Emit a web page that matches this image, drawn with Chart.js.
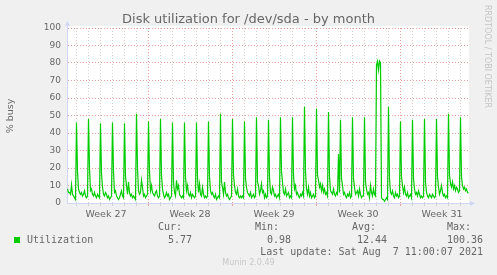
<!DOCTYPE html>
<html>
<head>
<meta charset="utf-8">
<title>Disk utilization for /dev/sda - by month</title>
<script src="https://cdn.jsdelivr.net/npm/chart.js@4.4.0/dist/chart.umd.min.js"></script>
<style>
body { margin: 0; background: #f0f0f0; }
canvas { display: block; }
</style>
</head>
<body>
<canvas id="diskGraph" width="497" height="275"></canvas>
<script>
// one sample every 2 hours, x counted in days from monday of week 27
var firstSample = 3.5 / 12;
var sampleStep = 1 / 12;

var utilization = [
	8, 6, 6, 5, 10.5, 5, 4, 3, 2,
	46, 18, 8, 6, 5, 6, 4, 5, 7, 4, 3, 4,
	48, 20, 7, 8, 5, 4, 6, 4, 3, 5, 4, 3,
	45.5, 17, 9, 5, 4, 6, 5, 3, 4, 2, 3, 4,
	46, 18, 6, 7, 4, 3, 2, 3, 5, 7, 4, 3,
	45.5, 15, 10, 5, 12, 6, 4, 5, 3, 4, 3, 2,
	51, 20, 7, 5, 6, 13, 9, 4, 5, 3, 4, 5,
	46.5, 18, 7, 10, 6, 5, 4, 6, 7, 4, 3, 4,
	48, 16, 8, 5, 3, 4, 6, 4, 5, 2, 3, 4,
	46, 12, 6, 4, 13, 8, 10, 5, 4, 3, 4, 3,
	46, 15, 7, 10, 5, 4, 6, 3, 5, 4, 3, 4,
	46, 14, 6, 11, 5, 4, 9, 5, 3, 4, 3, 4,
	46.5, 15, 7, 5, 6, 4, 3, 5, 2, 3, 4, 3,
	51, 12, 9, 5, 12, 6, 4, 5, 3, 2, 3, 4,
	48, 16, 10, 6, 5, 8, 4, 3, 4, 3, 4, 3,
	46.5, 14, 9, 6, 5, 4, 6, 3, 4, 5, 3, 4,
	49, 12, 10, 5, 7, 11, 6, 7, 3, 5, 3, 4,
	47.5, 15, 6, 5, 9, 7, 4, 5, 3, 4, 5, 3,
	49, 18, 12, 6, 5, 8, 4, 5, 6, 3, 4, 3,
	49, 16, 8, 10, 5, 6, 4, 3, 5, 4, 6, 4,
	55, 18, 8, 5, 9, 4, 6, 3, 4, 5, 3, 4,
	54, 16, 13, 9, 11, 7, 10, 6, 8, 5, 6, 4,
	52, 15, 7, 6, 5, 8, 5, 4, 6, 5, 28, 6,
	47.5, 14, 10, 5, 6, 4, 3, 5, 4, 6, 3, 4,
	49, 14, 9, 5, 6, 7, 4, 8, 5, 3, 4, 4,
	49, 12, 8, 5, 6, 3, 10, 6, 4, 8, 5, 4,
	79, 81, 76, 81, 80, 3, 2, 2, 1, 2, 3, 2,
	55, 14, 6, 5, 7, 4, 3, 6, 4, 5, 3, 4,
	46.5, 15, 10, 6, 9, 5, 4, 6, 3, 4, 5, 3,
	47.5, 14, 8, 5, 6, 4, 7, 5, 3, 4, 3, 4,
	48, 12, 6, 4, 3, 5, 4, 3, 5, 4, 3, 4,
	48, 15, 9, 5, 7, 10, 6, 4, 5, 3, 4, 3,
	51, 16, 11, 9, 12, 8, 10, 7, 9, 8, 6, 7,
	49, 15, 10, 8, 9, 7, 8, 6, 5.77
];

var weekLabels = ['Week 27', 'Week 28', 'Week 29', 'Week 30', 'Week 31'];
var weekStarts = [0, 7, 14, 21, 28];
var dayCount = 34;

var statLabels = ['Cur:', 'Min:', 'Avg:', 'Max:'];
var statValues = ['5.77', '0.98', '12.44', '100.36'];
var seriesName = 'Utilization';
var lastUpdate = 'Last update: Sat Aug  7 11:00:07 2021';

var points = utilization.map(function(v, i){
	return {x: firstSample + i * sampleStep, y: v};
});

var minorGrid = '#d0d0d0';
var majorGrid = '#eaa0a0';
var axisColor = '#cfd6f8';
var fontColor = '#666666';

var muninPlugin = {
	id: 'munin',
	beforeDraw: function(chart){
		var c = chart.ctx, a = chart.chartArea;
		c.save();
		c.fillStyle = '#ffffff';
		c.fillRect(a.left, a.top - 2, a.right - a.left, a.bottom - a.top + 2);
		c.restore();
	},
	afterDraw: function(chart){
		var c = chart.ctx, a = chart.chartArea;
		c.save();
		// axis arrows
		c.strokeStyle = axisColor;
		c.fillStyle = axisColor;
		c.lineWidth = 1;
		c.beginPath();
		c.moveTo(a.left + 0.5, a.top);
		c.lineTo(a.left + 0.5, a.top - 4);
		c.moveTo(a.right, a.bottom + 0.5);
		c.lineTo(a.right + 3, a.bottom + 0.5);
		c.stroke();
		c.beginPath();
		c.moveTo(a.left - 2, a.top - 2);
		c.lineTo(a.left + 3, a.top - 2);
		c.lineTo(a.left + 0.5, a.top - 7);
		c.closePath();
		c.fill();
		c.beginPath();
		c.moveTo(a.right + 1, a.bottom - 2);
		c.lineTo(a.right + 1, a.bottom + 3);
		c.lineTo(a.right + 6, a.bottom + 0.5);
		c.closePath();
		c.fill();

		// title
		c.fillStyle = fontColor;
		c.font = '13px "DejaVu Sans"';
		c.textAlign = 'center';
		c.textBaseline = 'middle';
		c.fillText('Disk utilization for /dev/sda - by month', 248.5, 20);

		// y title
		c.save();
		c.translate(11, 116);
		c.rotate(-Math.PI / 2);
		c.font = '9.5px "DejaVu Sans"';
		c.fillText('% busy', 0, 0);
		c.restore();

		// rrdtool credit
		c.save();
		c.translate(487, 5);
		c.rotate(Math.PI / 2);
		c.fillStyle = '#c4c4c4';
		c.font = '8px "DejaVu Sans"';
		c.textAlign = 'left';
		c.fillText('RRDTOOL / TOBI OETIKER', 0, 0);
		c.restore();

		// legend
		c.font = '10px "DejaVu Sans Mono"';
		c.textAlign = 'left';
		var colX = [158, 255, 352, 447];
		var valX = [168, 267, 357, 447];
		statLabels.forEach(function(s, i){
			c.fillText(s, colX[i], 227);
		});
		c.fillStyle = '#00cc00';
		c.fillRect(14, 237, 6, 6);
		c.fillStyle = fontColor;
		c.fillText(seriesName, 27, 240);
		statValues.forEach(function(s, i){
			c.fillText(s, valX[i], 240);
		});
		c.textAlign = 'right';
		c.fillText(lastUpdate, 483, 252);

		c.textAlign = 'center';
		c.fillStyle = '#c8c8c8';
		c.font = '8px "DejaVu Sans"';
		c.fillText('Munin 2.0.49', 248.5, 263);
		c.restore();
	}
};

var ctx = document.getElementById('diskGraph').getContext('2d');
var chart = new Chart(ctx, {
	type: 'line',
	data: {
		datasets: [{
			label: seriesName,
			data: points,
			borderColor: '#00cc00',
			borderWidth: 1.2,
			pointRadius: 0,
			fill: false,
			tension: 0
		}]
	},
	options: {
		responsive: false,
		animation: false,
		layout: {padding: {top: 28, right: 28, bottom: 52, left: 0}},
		plugins: {
			legend: {display: false},
			tooltip: {enabled: false}
		},
		scales: {
			x: {
				type: 'linear',
				position: 'bottom',
				weight: 0,
				min: 0.25,
				max: 33.75,
				afterBuildTicks: function(s){
					var t = [];
					for (var d = 1; d < dayCount; d++) t.push({value: d});
					s.ticks = t;
				},
				afterFit: function(s){ s.height = 4; },
				ticks: {display: false},
				grid: {
					color: function(c){ return c.tick && c.tick.value % 7 === 0 ? majorGrid : minorGrid; },
					tickLength: 3,
					lineWidth: 1
				},
				border: {color: axisColor, dash: [1, 2]}
			},
			x2: {
				type: 'linear',
				position: 'bottom',
				weight: 1,
				min: 0.25,
				max: 33.75,
				afterBuildTicks: function(s){
					s.ticks = weekStarts.map(function(w){ return {value: w + 3.5}; });
				},
				afterFit: function(s){ s.height = 16; },
				ticks: {
					autoSkip: false,
					maxRotation: 0,
					padding: 2,
					color: fontColor,
					font: {family: 'DejaVu Sans', size: 9.5},
					callback: function(v){
						var i = weekStarts.indexOf(v - 3.5);
						return i >= 0 ? weekLabels[i] : '';
					}
				},
				grid: {display: false, drawTicks: false},
				border: {display: false}
			},
			y: {
				min: 0,
				max: 100,
				afterFit: function(s){ s.width = 67; },
				ticks: {
					stepSize: 5,
					padding: 6,
					color: fontColor,
					font: {family: 'DejaVu Sans', size: 9},
					callback: function(v){ return v % 10 === 0 ? v : ''; }
				},
				grid: {
					drawTicks: false,
					color: function(c){
						if (!c.tick || c.tick.value === 0) return 'rgba(0,0,0,0)';
						return c.tick.value % 10 === 0 ? majorGrid : minorGrid;
					}
				},
				border: {color: axisColor, dash: [1, 2]}
			}
		}
	},
	plugins: [muninPlugin]
});
</script>
</body>
</html>
